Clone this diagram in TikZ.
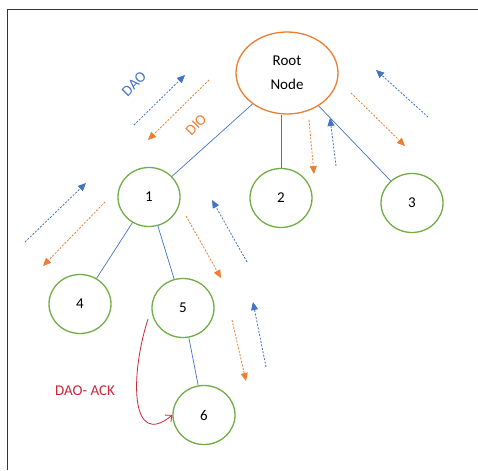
\documentclass[tikz,border=0pt]{standalone}
\usepackage{fontspec}
\setmainfont{Carlito}
\usetikzlibrary{shapes.geometric,arrows.meta}
\definecolor{oblue}{RGB}{68,114,196}
\definecolor{oorange}{RGB}{237,125,49}
\definecolor{ogreen}{RGB}{112,173,71}
\definecolor{ored}{RGB}{200,40,55}
\tikzset{
  tnode/.style={ellipse,draw=ogreen,line width=1.3pt,minimum width=62pt,minimum height=59pt,inner sep=0pt,font=\fontsize{15}{16}\selectfont},
  link/.style={draw=oblue,line width=0.7pt},
  upmsg/.style={oblue,line width=0.8pt,dash pattern=on 2pt off 1.5pt,-{Triangle[length=8pt,width=7pt]}},
  downmsg/.style={oorange,line width=0.8pt,dash pattern=on 2pt off 1.5pt,-{Triangle[length=8pt,width=7pt]}},
  lbl/.style={font=\fontsize{15}{16}\selectfont}
}
\begin{document}
\begin{tikzpicture}[x=1pt,y=-1pt]
\useasboundingbox (0,0) rectangle (478,470);
\coordinate (bl) at (7,470);
\coordinate (tl) at (7,10);
\coordinate (tr) at (478,10);
\draw[line width=1pt,black!80] (bl) -- (tl) -- (tr);

\node[ellipse,draw=oorange,line width=1.3pt,minimum width=102pt,minimum height=82pt,inner sep=0pt,align=center,font=\fontsize{15}{24}\selectfont] (root) at (287,73) {Root\\Node};
\node[tnode] (n1) at (149,197) {1};
\node[tnode] (n2) at (281,198) {2};
\node[tnode] (n3) at (412,203) {3};
\node[tnode] (n4) at (80,304) {4};
\node[tnode] (n5) at (183,308) {5};
\node[tnode] (n6) at (204,415) {6};

\draw[link] (root) -- (n1);
\draw[link] (n2.north) -- (n2.north |- root.south);
\draw[link] (root) -- (n3);
\draw[link] (n1) -- (n4);
\draw[link] (n1) -- (n5);
\draw[link] (n5) -- (n6);

% message arrows
\coordinate (a1s) at (134,125); \coordinate (a1e) at (185,75);
\coordinate (b1s) at (209,80);  \coordinate (b1e) at (148,140);
\draw[upmsg] (a1s) -- (a1e);
\draw[downmsg] (b1s) -- (b1e);
\coordinate (a2s) at (428,117); \coordinate (a2e) at (376,70);
\coordinate (b2s) at (351,93);  \coordinate (b2e) at (405,146);
\draw[upmsg] (a2s) -- (a2e);
\draw[downmsg] (b2s) -- (b2e);
\coordinate (a3s) at (336,166); \coordinate (a3e) at (330,118);
\coordinate (b3s) at (309,120); \coordinate (b3e) at (314,174);
\draw[upmsg] (a3s) -- (a3e);
\draw[downmsg] (b3s) -- (b3e);
\coordinate (a4s) at (25,242); \coordinate (a4e) at (86,183);
\coordinate (b4s) at (105,202); \coordinate (b4e) at (43,266);
\draw[upmsg] (a4s) -- (a4e);
\draw[downmsg] (b4s) -- (b4e);
\coordinate (a5s) at (247,262); \coordinate (a5e) at (212,200);
\coordinate (b5s) at (186,216); \coordinate (b5e) at (221,278);
\draw[upmsg] (a5s) -- (a5e);
\draw[downmsg] (b5s) -- (b5e);
\coordinate (a6s) at (266,367); \coordinate (a6e) at (253,302);
\coordinate (b6s) at (232,320); \coordinate (b6e) at (246,381);
\draw[upmsg] (a6s) -- (a6e);
\draw[downmsg] (b6s) -- (b6e);

\node[lbl,text=oblue,rotate=45,inner sep=0pt] (dao) at (134,84) {DAO};
\node[lbl,text=oorange,rotate=45,inner sep=0pt] (dio) at (196,125) {DIO};
\node[lbl,text=ored] (ack) at (85,391) {DAO- ACK};

\coordinate (cs) at (148,319);
\draw[ored,line width=0.8pt,-{Straight Barb[length=5pt,width=9pt]}] (cs) .. controls (130,375) and (130,450) .. (n6.west);
\end{tikzpicture}
\end{document}
